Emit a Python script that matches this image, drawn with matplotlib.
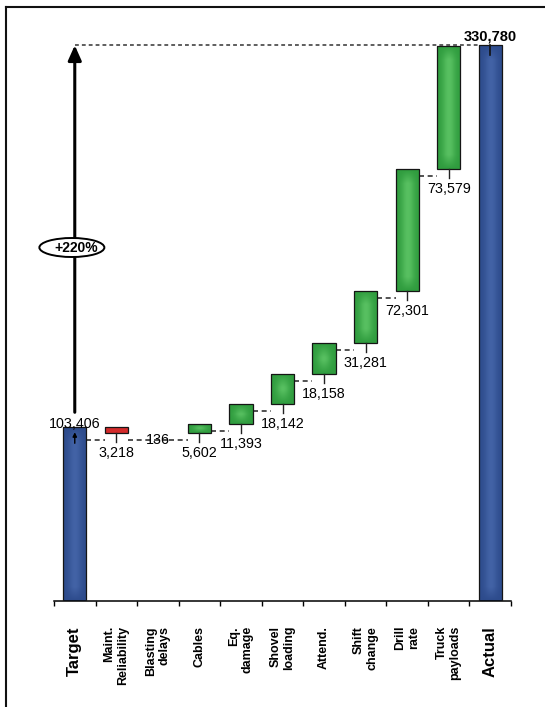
import numpy as np
import matplotlib
matplotlib.use("Agg")
import matplotlib.pyplot as plt
from matplotlib.patches import Ellipse
from matplotlib.lines import Line2D
from matplotlib.colors import LinearSegmentedColormap

plt.rcParams['font.family'] = ['Liberation Sans', 'DejaVu Sans']

# ---------------- data ----------------
categories = ['Target', 'Maint.\nReliability', 'Blasting\ndelays', 'Cables',
              'Eq.\ndamage', 'Shovel\nloading', 'Attend.', 'Shift\nchange',
              'Drill\nrate', 'Truck\npayloads', 'Actual']
target_value = 103406
actual_value = 330780
deltas = [-3218, -136, 5602, 11393, 18142, 18158, 31281, 72301, 73579]
change_text = '+220%'

# ---------------- layout helpers ----------------
W = 0.56
YMAX = 345000
AX_H_PX = 579.6
PX = AX_H_PX / YMAX          # pixels per data unit


def px(n):
    return n / PX


fig = plt.figure(figsize=(5.45, 7.07), dpi=100)
ax = fig.add_axes([54 / 545, 106 / 707, 457 / 545, AX_H_PX / 707])
ax.set_xlim(-0.5, 10.5)
ax.set_ylim(0, YMAX)

BLUE, BLUE_HI = '#2d4b8c', '#4363a6'
GREEN, GREEN_HI = '#2f9c3e', '#58c061'
RED = '#d42b2b'

# compute waterfall geometry
bottoms, heights, kinds = [0], [target_value], ['blue']
running = target_value
for d in deltas:
    if d >= 0:
        bottoms.append(running); heights.append(d); kinds.append('green')
    else:
        bottoms.append(running + d); heights.append(-d); kinds.append('red')
    running += d
bottoms.append(0); heights.append(actual_value); kinds.append('blue')

x = np.arange(len(categories))
base_col = {'blue': BLUE, 'green': GREEN, 'red': RED}
bars = ax.bar(x, heights, bottom=bottoms, width=W,
              color=[base_col[k] for k in kinds], edgecolor='none', zorder=2)

# glossy gradient fill
for rect, k in zip(bars, kinds):
    if k == 'red':
        continue
    x0, y0 = rect.get_x(), rect.get_y()
    w, h = rect.get_width(), rect.get_height()
    hpx = h * PX
    u = np.linspace(0, 1, 40)
    v = np.linspace(0, 1, max(int(hpx), 4))
    U, V = np.meshgrid(u, v)
    hx = np.exp(-((U - 0.5) / 0.28) ** 2)
    vy = np.clip(np.minimum(V, 1 - V) * hpx / 14.0, 0, 1)
    Z = hx * vy
    lo, hi = (BLUE, BLUE_HI) if k == 'blue' else (GREEN, GREEN_HI)
    cmap = LinearSegmentedColormap.from_list('g', [lo, hi])
    im = ax.imshow(Z, extent=[x0, x0 + w, y0, y0 + h], origin='lower',
                   cmap=cmap, aspect='auto', zorder=2.5, interpolation='bilinear')
    im.set_clip_path(rect)

edge_w = [0.0 if hgt * PX < 2 else 0.9 for hgt in heights]
ax.bar(x, heights, bottom=bottoms, width=W, fill=False,
       edgecolor='#151515', linewidth=edge_w, zorder=3)
ax.set_xlim(-0.5, 10.5)
ax.set_ylim(0, YMAX)

# connectors, ticks and labels for the deltas
for i, d in enumerate(deltas, start=1):
    b = bottoms[i]
    lvl = b - px(7)
    tiny = abs(d) * PX < 2
    xa = (i - 1) + W / 2
    xb = i + W / 2 if tiny else i - W / 2
    ax.plot([xa, xb], [lvl, lvl], color='#333333', lw=1.2,
            ls=(0, (3, 2.2)), zorder=1)
    if tiny:
        ax.text(i, lvl, f"{abs(d):,}", ha='center', va='center',
                fontsize=10.3, zorder=6)
    else:
        ax.plot([i, i], [b, lvl - px(2)], color='#222222', lw=1.0, zorder=4)
        ax.text(i, b - px(20), f"{abs(d):,}", ha='center', va='center',
                fontsize=10.3, zorder=6)

# Target annotations
ax.text(0, target_value + px(3), f"{target_value:,}", ha='center',
        va='center', fontsize=10.3, zorder=6)
ax.annotate('', xy=(0, target_value - px(5)), xytext=(0, target_value - px(16)),
            arrowprops=dict(arrowstyle='-|>', color='black', lw=1.0,
                            mutation_scale=6, shrinkA=0, shrinkB=0), zorder=5)

# Actual annotations
n_last = len(categories) - 1
ax.text(n_last, actual_value + px(9), f"{actual_value:,}", ha='center',
        va='center', fontsize=10.5, fontweight='bold', zorder=6)
ax.plot([n_last, n_last], [actual_value, actual_value - px(10)],
        color='#111111', lw=1.2, zorder=5)

# top dashed reference line
ax.plot([0, n_last - W / 2], [actual_value, actual_value], color='#333333',
        lw=1.1, ls=(0, (2.5, 2)), zorder=1)

# big arrow
ax.annotate('', xy=(0, actual_value), xytext=(0, target_value + px(15)),
            arrowprops=dict(arrowstyle='-|>,head_length=0.45,head_width=0.2',
                            color='black', lw=2.2, mutation_scale=20,
                            shrinkA=0, shrinkB=0), zorder=5)

# percent ellipse
ey = (601 - 247.5) / PX
ax.add_patch(Ellipse((-0.07, ey), 65 / 41.55, px(19), facecolor='white',
                     edgecolor='black', lw=1.4, zorder=6, clip_on=False))
ax.text(0.03, ey, change_text, ha='center', va='center', fontsize=10,
        fontweight='bold', zorder=7)

# axes styling
for s in ['left', 'top', 'right']:
    ax.spines[s].set_visible(False)
ax.spines['bottom'].set_linewidth(1.1)
ax.set_yticks([])
ax.set_xticks(x)
ax.set_xticklabels(categories)
ax.set_xticks(np.arange(-0.5, 11, 1), minor=True)
ax.tick_params(axis='x', which='major', length=0, pad=18)
ax.tick_params(axis='x', which='minor', length=3.5, width=1.0, direction='out')
for j, lab in enumerate(ax.get_xticklabels()):
    big = j in (0, n_last)
    lab.set(rotation=90, ha='center', va='top', multialignment='right',
            fontweight='bold', fontsize=12 if big else 9)

# frame lines (top and left)
fig.add_artist(Line2D([6 / 545, 1], [1 - 6.7 / 707] * 2,
                      transform=fig.transFigure, color='#111111', lw=1.5))
fig.add_artist(Line2D([6 / 545] * 2, [0, 1 - 6.7 / 707],
                      transform=fig.transFigure, color='#111111', lw=1.5))

fig.savefig('out.png', dpi=100)
